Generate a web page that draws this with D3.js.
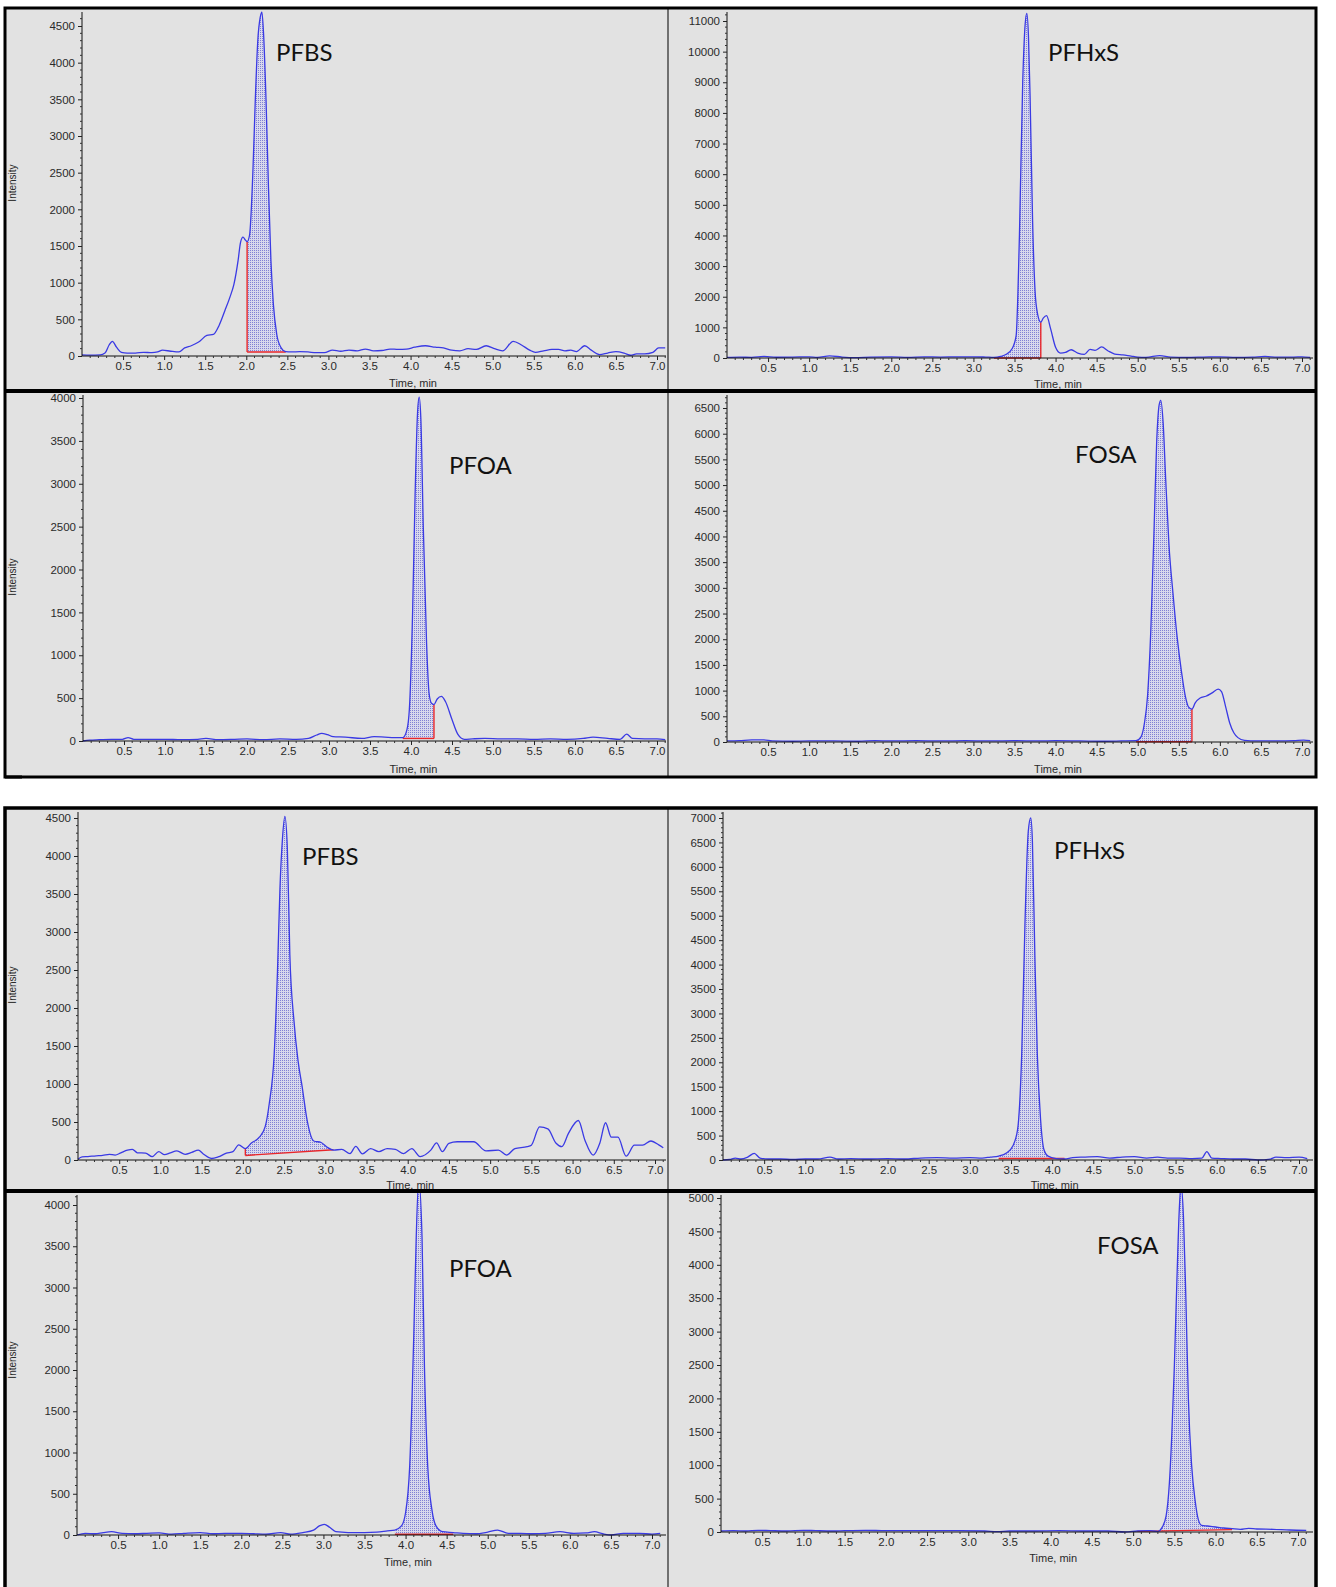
<!DOCTYPE html>
<html><head><meta charset="utf-8">
<script src="https://cdn.jsdelivr.net/npm/d3@7"></script>
<style>body{margin:0;background:#fff} svg{display:block}</style>
</head><body>
<svg id="c" width="1336" height="1587"></svg>
<script>
// ---------- DATA ----------
const compounds = ["PFBS","PFHxS","PFOA","FOSA","PFBS","PFHxS","PFOA","FOSA"];
const xTicks = [0.5,1.0,1.5,2.0,2.5,3.0,3.5,4.0,4.5,5.0,5.5,6.0,6.5,7.0];
const yTicksA = [0,500,1000,1500,2000,2500,3000,3500,4000,4500];
const yTicksB = [0,1000,2000,3000,4000,5000,6000,7000,8000,9000,10000,11000];
const yTicksC = [0,500,1000,1500,2000,2500,3000,3500,4000];
const yTicksD = [0,500,1000,1500,2000,2500,3000,3500,4000,4500,5000,5500,6000,6500];
const yTicksE = [0,500,1000,1500,2000,2500,3000,3500,4000,4500];
const yTicksF = [0,500,1000,1500,2000,2500,3000,3500,4000,4500,5000,5500,6000,6500,7000];
const yTicksG = [0,500,1000,1500,2000,2500,3000,3500,4000];
const yTicksH = [0,500,1000,1500,2000,2500,3000,3500,4000,4500,5000];

const pfbs1 = [[0.00,15],[0.10,12],[0.22,15],[0.28,40],[0.33,150],[0.37,200],[0.42,120],[0.48,50],[0.55,40],[0.65,40],[0.75,50],[0.85,45],[0.92,55],[0.98,80],[1.08,65],[1.18,55],[1.25,110],[1.33,140],[1.42,190],[1.52,280],[1.60,295],[1.67,420],[1.74,620],[1.80,800],[1.85,980],[1.90,1300],[1.93,1550],[1.96,1620],[1.99,1580],[2.01,1560],[2.04,1650],[2.08,2500],[2.11,3500],[2.14,4300],[2.17,4620],[2.19,4690],[2.21,4400],[2.24,3500],[2.27,2300],[2.30,1300],[2.33,700],[2.37,300],[2.42,120],[2.48,60],[2.55,55],[2.65,60],[2.75,55],[2.85,45],[2.95,45],[3.05,80],[3.15,65],[3.25,80],[3.35,70],[3.45,95],[3.55,70],[3.65,75],[3.75,95],[3.85,90],[3.95,95],[4.05,120],[4.18,140],[4.30,120],[4.40,110],[4.50,80],[4.60,70],[4.70,100],[4.80,90],[4.92,140],[5.02,100],[5.12,70],[5.25,200],[5.35,150],[5.45,80],[5.52,50],[5.62,70],[5.72,90],[5.80,90],[5.88,70],[5.95,80],[6.02,60],[6.12,140],[6.20,80],[6.30,20],[6.40,40],[6.50,60],[6.60,40],[6.68,10],[6.75,30],[6.85,30],[6.95,50],[7.02,110],[7.10,110]];
const pfhxs1 = [[0.00,20],[0.15,30],[0.30,20],[0.45,50],[0.60,25],[0.80,30],[1.00,40],[1.10,20],[1.25,70],[1.40,30],[1.55,10],[1.75,30],[2.00,40],[2.20,20],[2.40,40],[2.60,30],[2.80,40],[3.00,40],[3.15,30],[3.25,20],[3.33,50],[3.40,120],[3.47,300],[3.52,730],[3.56,4000],[3.60,9000],[3.63,10900],[3.65,11250],[3.67,10500],[3.69,8500],[3.72,4500],[3.75,2200],[3.78,1450],[3.82,1170],[3.85,1300],[3.89,1380],[3.94,950],[4.00,350],[4.06,160],[4.12,180],[4.19,270],[4.27,160],[4.35,120],[4.42,280],[4.48,250],[4.56,360],[4.64,230],[4.72,130],[4.82,100],[4.92,60],[5.00,30],[5.10,20],[5.27,80],[5.40,30],[5.60,20],[5.80,30],[6.00,40],[6.20,20],[6.40,30],[6.55,50],[6.70,30],[6.90,30],[7.00,40],[7.10,20]];
const pfoa1 = [[0.00,0],[0.08,10],[0.20,15],[0.35,20],[0.48,20],[0.55,40],[0.62,20],[0.80,20],[1.00,20],[1.20,15],[1.40,20],[1.50,30],[1.65,15],[1.85,20],[2.00,25],[2.20,15],[2.40,25],[2.60,20],[2.75,30],[2.85,70],[2.91,90],[2.98,75],[3.05,50],[3.20,45],[3.40,30],[3.55,50],[3.68,45],[3.80,40],[3.90,40],[3.95,130],[3.98,370],[4.02,1520],[4.05,2870],[4.08,3830],[4.10,4010],[4.12,3760],[4.15,2490],[4.19,1140],[4.22,560],[4.25,440],[4.28,425],[4.32,490],[4.37,520],[4.42,460],[4.50,250],[4.57,80],[4.65,20],[4.75,25],[4.90,30],[5.10,25],[5.30,25],[5.50,20],[5.70,25],[5.90,20],[6.10,30],[6.22,45],[6.40,30],[6.55,20],[6.63,80],[6.70,30],[6.85,25],[7.00,25],[7.10,15]];
const fosa1 = [[0.00,20],[0.15,25],[0.30,40],[0.45,40],[0.55,20],[0.80,15],[1.00,20],[1.30,20],[1.60,15],[1.80,25],[2.00,20],[2.30,25],[2.60,20],[2.90,25],[3.20,20],[3.50,25],[3.80,20],[4.00,25],[4.30,20],[4.60,15],[4.80,20],[4.98,25],[5.04,100],[5.08,350],[5.12,900],[5.16,2200],[5.20,4200],[5.23,5800],[5.26,6550],[5.28,6650],[5.31,6200],[5.34,5130],[5.38,3850],[5.43,2880],[5.48,2040],[5.53,1400],[5.58,890],[5.62,680],[5.66,640],[5.70,760],[5.76,855],[5.83,890],[5.90,950],[5.98,1030],[6.02,980],[6.07,690],[6.12,370],[6.17,180],[6.22,85],[6.30,30],[6.45,20],[6.70,20],[6.90,25],[7.02,35],[7.10,25]];
const pfbs2 = [[0.00,10],[0.05,40],[0.12,45],[0.22,55],[0.30,60],[0.38,75],[0.45,65],[0.52,95],[0.60,130],[0.66,140],[0.72,95],[0.82,90],[0.90,45],[0.98,110],[1.05,70],[1.12,95],[1.20,120],[1.30,75],[1.38,100],[1.46,130],[1.52,80],[1.62,20],[1.70,40],[1.80,90],[1.88,110],[1.95,200],[2.03,150],[2.10,220],[2.20,300],[2.27,435],[2.32,740],[2.38,1390],[2.42,2480],[2.45,3570],[2.48,4220],[2.51,4520],[2.54,4090],[2.57,2700],[2.62,1830],[2.67,1300],[2.72,960],[2.78,520],[2.86,250],[2.95,230],[3.02,170],[3.10,130],[3.20,140],[3.30,85],[3.37,180],[3.45,80],[3.55,150],[3.65,110],[3.75,150],[3.85,140],[3.95,85],[4.05,150],[4.15,45],[4.28,130],[4.35,225],[4.42,110],[4.50,220],[4.60,240],[4.70,240],[4.80,240],[4.95,120],[5.10,130],[5.20,65],[5.30,150],[5.45,175],[5.50,195],[5.60,435],[5.70,410],[5.80,220],[5.87,175],[5.95,350],[6.07,520],[6.15,260],[6.25,65],[6.33,220],[6.40,490],[6.47,300],[6.55,300],[6.65,50],[6.75,195],[6.85,195],[6.95,250],[7.05,195],[7.10,160]];
const pfhxs2 = [[0.00,0],[0.08,10],[0.15,40],[0.22,20],[0.30,60],[0.38,135],[0.45,40],[0.55,20],[0.70,20],[0.85,10],[1.00,20],[1.15,20],[1.30,60],[1.40,20],[1.55,30],[1.75,20],[2.00,30],[2.20,20],[2.40,40],[2.60,50],[2.80,40],[3.00,50],[3.15,40],[3.25,60],[3.35,80],[3.45,150],[3.52,280],[3.58,620],[3.63,2160],[3.67,4850],[3.71,6730],[3.74,7000],[3.76,6530],[3.79,4180],[3.82,2160],[3.86,820],[3.90,215],[3.95,80],[4.05,30],[4.15,20],[4.25,50],[4.40,60],[4.55,70],[4.70,40],[4.85,60],[5.00,70],[5.15,40],[5.28,60],[5.40,40],[5.55,40],[5.70,30],[5.82,40],[5.88,170],[5.94,40],[6.05,30],[6.20,20],[6.35,20],[6.50,0],[6.65,20],[6.72,60],[6.85,50],[7.00,60],[7.10,30]];
const pfoa2 = [[0.00,0],[0.10,20],[0.22,15],[0.32,30],[0.42,40],[0.55,20],[0.70,15],[0.85,20],[1.00,25],[1.15,10],[1.30,20],[1.50,30],[1.65,15],[1.80,20],[2.00,20],[2.15,15],[2.30,10],[2.48,30],[2.60,10],[2.75,30],[2.88,60],[2.95,110],[3.01,130],[3.08,90],[3.15,40],[3.30,30],[3.50,30],[3.65,35],[3.78,50],[3.87,60],[3.95,110],[4.00,270],[4.05,830],[4.10,2420],[4.13,3620],[4.16,4300],[4.20,3620],[4.23,2030],[4.27,830],[4.32,310],[4.37,110],[4.45,40],[4.58,30],[4.70,20],[4.85,15],[5.00,35],[5.12,60],[5.25,20],[5.40,20],[5.55,15],[5.70,20],[5.88,40],[6.05,20],[6.20,25],[6.30,40],[6.40,15],[6.50,0],[6.65,20],[6.85,20],[7.00,10],[7.10,20]];
const fosa2 = [[0.00,15],[0.15,20],[0.30,15],[0.45,25],[0.60,20],[0.80,15],[1.00,25],[1.15,20],[1.35,15],[1.50,20],[1.75,25],[2.00,20],[2.30,20],[2.60,20],[2.90,20],[3.20,15],[3.35,5],[3.50,15],[3.80,15],[4.10,20],[4.40,15],[4.70,15],[4.90,0],[5.05,15],[5.20,20],[5.30,10],[5.35,65],[5.40,240],[5.44,740],[5.47,1490],[5.50,2490],[5.53,3730],[5.56,4830],[5.58,5200],[5.61,4730],[5.64,3480],[5.67,1990],[5.71,990],[5.75,490],[5.79,190],[5.83,100],[5.90,90],[6.00,75],[6.10,60],[6.20,50],[6.30,40],[6.40,55],[6.50,45],[6.70,40],[6.90,30],[7.10,25]];

// integration baselines [[tStart, vStart],[tEnd, vEnd]] and split (drop) times
const bases = [[[2.01,55],[2.48,55]], [[3.25,0],[3.82,0]], [[3.90,30],[4.28,30]], [[4.98,5],[5.66,5]],
               [[2.03,60],[3.10,135]], [[3.35,30],[4.15,30]], [[3.87,10],[4.58,10]], [[5.05,10],[6.20,35]]];
const drops = [[2.01],[3.82],[4.28],[5.66],[2.03],[],[],[]];
const series = [pfbs1,pfhxs1,pfoa1,fosa1,pfbs2,pfhxs2,pfoa2,fosa2];
const yTicksAll = [yTicksA,yTicksB,yTicksC,yTicksD,yTicksE,yTicksF,yTicksG,yTicksH];

// ---------- LAYOUT ----------
const layout = [
 {x0:82, x7:657, y0:356, yRef:26, left:7, right:667, top:10, bottom:389, intensity:183, lab:[276,61], tOff:31},
 {x0:727,x7:1302,y0:358, yRef:21, left:669,right:1314,top:10, bottom:389, lab:[1048,61], tOff:30},
 {x0:83, x7:657, y0:741, yRef:398, left:7, right:667, top:393, bottom:775, intensity:577, lab:[449,474], tOff:32},
 {x0:727,x7:1302,y0:742, yRef:408, left:669,right:1314,top:393, bottom:775, lab:[1075,463], tOff:31},
 {x0:78, x7:655, y0:1160,yRef:818, left:7, right:667, top:810, bottom:1189, intensity:985, lab:[302,865], tOff:29},
 {x0:723,x7:1299,y0:1160,yRef:818, left:669,right:1314,top:810, bottom:1189, lab:[1054,859], tOff:29},
 {x0:77, x7:652, y0:1535,yRef:1205,left:7, right:667, top:1193,bottom:1587, intensity:1360, lab:[449,1277], tOff:31},
 {x0:721,x7:1298,y0:1532,yRef:1198,left:669,right:1314,top:1193,bottom:1587, lab:[1097,1254], tOff:30},
];

const svg = d3.select("#c");
const defs = svg.append("defs");
const pat = defs.append("pattern").attr("id","dots").attr("width",2).attr("height",2).attr("patternUnits","userSpaceOnUse");
pat.append("rect").attr("width",2).attr("height",2).attr("fill","#d8d8ec");
pat.append("rect").attr("width",1).attr("height",1).attr("fill","#8080d4");

const tickFont = "'Liberation Sans Narrow','Arial Narrow','Liberation Sans',Arial,sans-serif";
const blue = "#3a3ae4", red = "#e8262a";

// block backgrounds
[[8,777],[808,1600]].forEach(([t,b])=>{
  svg.append("rect").attr("x",5).attr("y",t).attr("width",1311).attr("height",b-t).attr("fill","#e2e2e2");
});

layout.forEach((L,i)=>{
  const data = series[i], yt = yTicksAll[i];
  const refVal = yt[yt.length-1];
  const x = d3.scaleLinear().domain([0,7]).range([L.x0,L.x7]);
  const y = d3.scaleLinear().domain([0,refVal]).range([L.y0,L.yRef]);
  const g = svg.append("g");
  const cid = "clip"+i;
  defs.append("clipPath").attr("id",cid).append("rect")
    .attr("x",L.left).attr("y",L.top).attr("width",L.right-L.left).attr("height",L.bottom-L.top);
  const pg = g.append("g").attr("clip-path",`url(#${cid})`);

  // integration fill
  const [b0,b1] = bases[i];
  const bl = d3.scaleLinear().domain([b0[0],b1[0]]).range([b0[1],b1[1]]);
  const seg = data.filter(d=>d[0]>=b0[0]-1e-9 && d[0]<=b1[0]+1e-9);
  pg.append("path").datum(seg)
    .attr("d", d3.area().curve(d3.curveMonotoneX).x(d=>x(d[0])).y0(d=>y(bl(d[0]))).y1(d=>y(d[1])))
    .attr("fill","url(#dots)");

  // axes lines
  g.append("line").attr("x1",L.x0).attr("x2",L.x0).attr("y1",L.y0).attr("y2",L.top+2).attr("stroke","#111").attr("stroke-width",1);
  g.append("line").attr("x1",L.x0).attr("x2",L.right-1).attr("y1",L.y0).attr("y2",L.y0).attr("stroke","#111").attr("stroke-width",1);

  // y axis
  const yAxis = d3.axisLeft(y).tickValues(yt).tickSize(4).tickPadding(3).tickFormat(d=>String(d));
  const ya = g.append("g").attr("transform",`translate(${L.x0},0)`).call(yAxis);
  ya.select(".domain").remove();
  ya.selectAll("text").attr("font-family",tickFont).attr("font-size",11.5).attr("fill","#2a2a2a");
  ya.selectAll("line").attr("stroke","#222");
  const step = (yt[1]-yt[0]) >= 1000 ? 200 : 100;
  const yMax = y.invert(L.top+2);
  const yMinor = d3.range(step, yMax, step).filter(v=>!yt.includes(v));
  g.append("g").selectAll("line").data(yMinor).join("line")
    .attr("x1",L.x0-2).attr("x2",L.x0).attr("y1",d=>y(d)).attr("y2",d=>y(d)).attr("stroke","#333");

  // x axis
  const xAxis = d3.axisBottom(x).tickValues(xTicks).tickSize(4).tickPadding(2).tickFormat(d=>d.toFixed(1));
  const xa = g.append("g").attr("transform",`translate(0,${L.y0})`).call(xAxis);
  xa.select(".domain").remove();
  xa.selectAll("text").attr("font-family",tickFont).attr("font-size",11.5).attr("fill","#2a2a2a");
  xa.selectAll("line").attr("stroke","#222");
  const xMinor = d3.range(0.1, x.invert(L.right-1), 0.1).filter(v=>Math.abs(v*2-Math.round(v*2))>1e-6);
  g.append("g").selectAll("line").data(xMinor).join("line")
    .attr("x1",d=>x(d)).attr("x2",d=>x(d)).attr("y1",L.y0).attr("y2",L.y0+2).attr("stroke","#333");

  // axis titles
  g.append("text").attr("x",x(4.03)).attr("y",L.y0+L.tOff).attr("text-anchor","middle")
    .attr("font-family",tickFont).attr("font-size",11).attr("fill","#2a2a2a").text("Time, min");
  if (L.intensity) {
    g.append("text").attr("transform",`translate(16,${L.intensity}) rotate(-90)`).attr("text-anchor","middle")
      .attr("font-family",tickFont).attr("font-size",10).attr("fill","#2a2a2a").text("Intensity");
  }

  // red baseline and drop lines
  pg.append("line").attr("x1",x(b0[0])).attr("x2",x(b1[0])).attr("y1",y(b0[1])).attr("y2",y(b1[1]))
    .attr("stroke",red).attr("stroke-width",1.4);
  drops[i].forEach(t=>{
    const pt = data.find(d=>Math.abs(d[0]-t)<1e-9);
    pg.append("line").attr("x1",x(t)).attr("x2",x(t)).attr("y1",y(bl(t))).attr("y2",y(pt[1]))
      .attr("stroke",red).attr("stroke-width",1.4);
  });

  // chromatogram trace
  pg.append("path").datum(data)
    .attr("d", d3.line().curve(d3.curveMonotoneX).x(d=>x(d[0])).y(d=>y(d[1])))
    .attr("fill","none").attr("stroke",blue).attr("stroke-width",1.3);

  // compound label
  g.append("text").attr("x",L.lab[0]).attr("y",L.lab[1])
    .attr("font-family","Lato,'Open Sans',sans-serif").attr("font-size",24).attr("fill","#111")
    .text(compounds[i]);
});

// frames and dividers
const frame = svg.append("g").attr("fill","none");
frame.append("line").attr("x1",668).attr("x2",668).attr("y1",8).attr("y2",777).attr("stroke","#4a4a4a").attr("stroke-width",1.5);
frame.append("line").attr("x1",668).attr("x2",668).attr("y1",808).attr("y2",1590).attr("stroke","#4a4a4a").attr("stroke-width",1.5);
frame.append("line").attr("x1",5).attr("x2",1316).attr("y1",391).attr("y2",391).attr("stroke","#000").attr("stroke-width",4);
frame.append("line").attr("x1",5).attr("x2",1316).attr("y1",1191).attr("y2",1191).attr("stroke","#000").attr("stroke-width",4);
frame.append("rect").attr("x",5).attr("y",8).attr("width",1311).attr("height",769).attr("stroke","#000").attr("stroke-width",3);
frame.append("rect").attr("x",5).attr("y",808).attr("width",1311).attr("height",792).attr("stroke","#000").attr("stroke-width",3.5);
frame.append("line").attr("x1",5).attr("x2",22).attr("y1",777).attr("y2",777).attr("stroke","#000").attr("stroke-width",3);
</script>
</body></html>
